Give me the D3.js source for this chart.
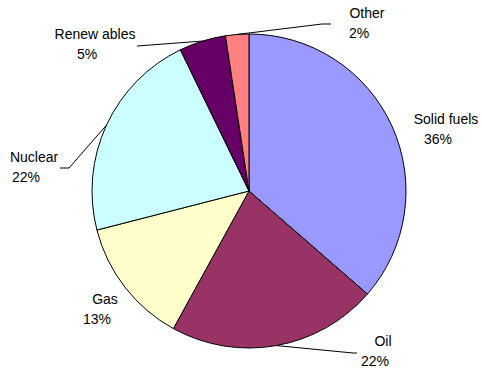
<!DOCTYPE html>
<html>
<head>
  <script src="https://d3js.org/d3.v7.min.js"></script>
</head>
<style>
body { margin: 0; background: #fff; }
text {
  font-family: "Liberation Sans", Arial, sans-serif;
  font-size: 14px;
  fill: #000;
}
</style>
<body>
  <svg id="svg_pie"></svg>
</body>
<script>
  // data (share of energy mix, %)
  var categories = ["Solid fuels", "Oil", "Gas", "Nuclear", "Renew ables", "Other"];
  var values = [36.4, 21.6, 13.0, 21.8, 4.8, 2.4];
  var colors = ["#9999ff", "#993366", "#ffffcc", "#ccffff", "#660066", "#ff8080"];

  var w = 482;
  var h = 373;
  var cx = 249, cy = 191, radius = 157;

  // label anchor (centre x, first baseline) and leader elbow, per category
  var labelPos = {
    "Solid fuels": {x: 442, y: 124},
    "Oil": {x: 379, y: 346, leader: [[353, 353], [357, 353]]},
    "Gas": {x: 101, y: 304},
    "Nuclear": {x: 30, y: 162, leader: [[69, 168], [60, 168]]},
    "Renew ables": {x: 91, y: 39, leader: [[137, 46]]},
    "Other": {x: 363, y: 18, leader: [[322, 24], [331, 24]]}
  };

  var data = categories.map(function(c, i) {
    return {name: c, value: values[i], color: colors[i]};
  });

  var svg = d3.select("svg#svg_pie")
    .attr("width", w)
    .attr("height", h);

  var pie = d3.pie()
    .sort(null)
    .value(function(d) { return d.value; });

  var arc = d3.arc().innerRadius(0).outerRadius(radius);

  var arcs = pie(data);

  var g = svg.append("g").attr("transform", "translate(" + cx + "," + cy + ")");

  g.selectAll("path")
    .data(arcs)
    .enter().append("path")
    .attr("d", arc)
    .attr("fill", function(d) { return d.data.color; })
    .attr("stroke", "#000")
    .attr("stroke-width", 1);

  // leader lines from the slice's outer midpoint
  var line = d3.line();
  arcs.forEach(function(d) {
    var p = labelPos[d.data.name];
    if (!p.leader) return;
    var a = (d.startAngle + d.endAngle) / 2;
    var start = [cx + radius * Math.sin(a), cy - radius * Math.cos(a)];
    svg.append("path")
      .attr("d", line([start].concat(p.leader)))
      .attr("fill", "none")
      .attr("stroke", "#000")
      .attr("stroke-width", 1);
  });

  // labels
  var fmt = function(v) { return Math.round(v) + "%"; };
  var labels = svg.selectAll("g.label")
    .data(arcs)
    .enter().append("g")
    .attr("class", "label");

  labels.append("text")
    .attr("x", function(d) { return labelPos[d.data.name].x + 4; })
    .attr("y", function(d) { return labelPos[d.data.name].y; })
    .attr("text-anchor", "middle")
    .text(function(d) { return d.data.name; });

  labels.append("text")
    .attr("x", function(d) { return labelPos[d.data.name].x - 4; })
    .attr("y", function(d) { return labelPos[d.data.name].y + 20; })
    .attr("text-anchor", "middle")
    .text(function(d) { return fmt(d.data.value); });
</script>
</html>
